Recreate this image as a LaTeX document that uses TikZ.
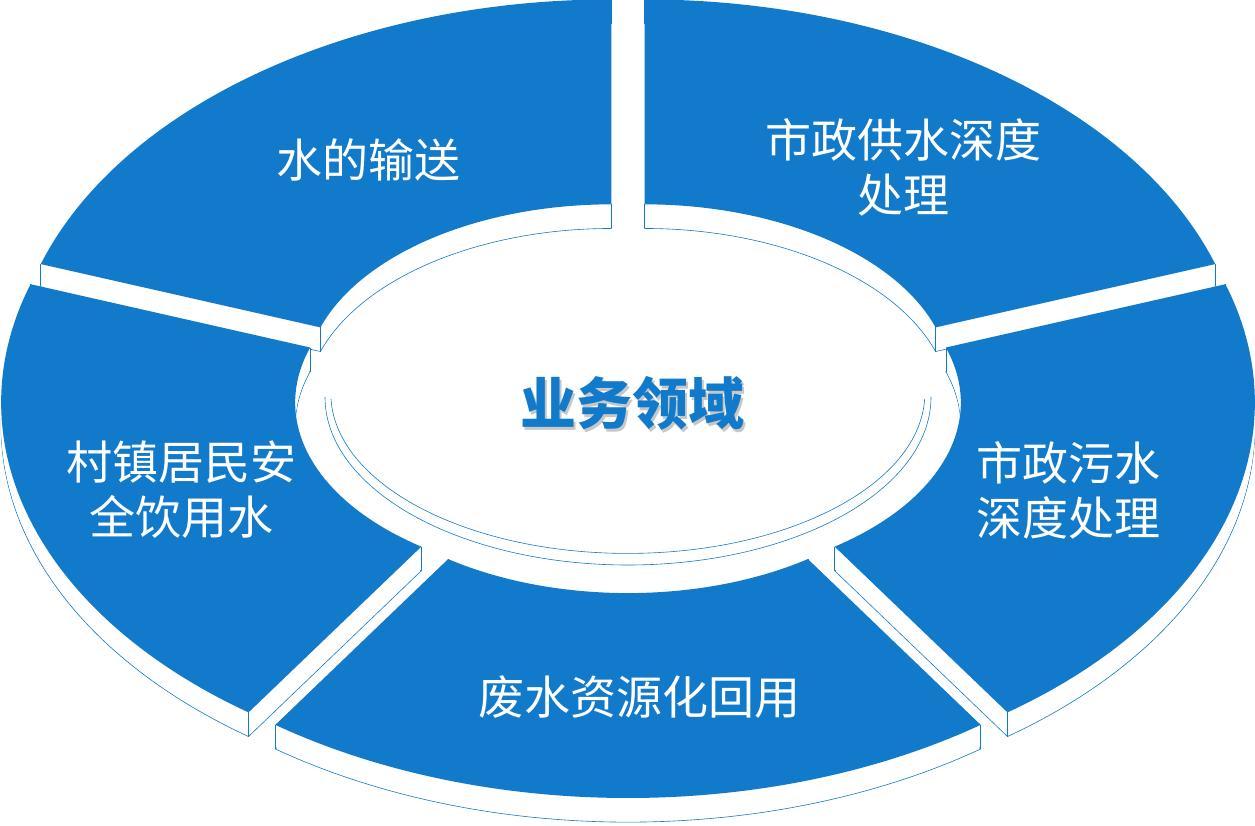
\documentclass[tikz,border=0pt]{standalone}
\usepackage{fontspec}
\newfontfamily\cjk{Noto Sans CJK SC}
\definecolor{segblue}{RGB}{17,122,202}

\tikzset{
  segtop/.style={fill=segblue},
  segside/.style={fill=white,draw=segblue,line width=0.6pt},
  segedge/.style={draw=segblue,line width=0.6pt},
  segtext/.style={text=white,font=\cjk\fontsize{46}{55}\selectfont,align=center},
  titletext/.style={font=\cjk\bfseries\fontsize{56}{60}\selectfont}
}

% one ring piece, unit ellipse, outer radius 1
\newcommand\segpath[2]{(#1:1) arc[start angle=#1,end angle=#2,radius=1] -- (#2:0.51 and 0.465) arc[start angle=#2,end angle=#1,x radius=0.51,y radius=0.465] -- cycle}
\newcommand\ringseg[2]{%
  \pgfmathsetmacro\segmid{(#1+#2)/2}
  \begin{scope}[shift={(\segmid:0.047)}]
    \path[segside,shift={(0,-0.063)}] \segpath{#1}{#2};
    \foreach \k in {1,...,12}
      \fill[white,shift={(0,{-0.063+0.063*\k/12})}] \segpath{#1}{#2};
    \draw[segedge] (#1:1) -- ++(0,-0.063) (#2:1) -- ++(0,-0.063)
      (#1:0.51 and 0.465) -- ++(0,-0.063) (#2:0.51 and 0.465) -- ++(0,-0.063);
    \fill[segtop] \segpath{#1}{#2};
  \end{scope}}
% title with a soft drop shadow
\newcommand\shadowtext[1]{\rlap{\hspace{2.5pt}\raisebox{-2.5pt}{\textcolor{black!22}{#1}}}\textcolor{segblue}{#1}}

\begin{document}
\begin{tikzpicture}[x=1pt,y=1pt]
\useasboundingbox (0,0) rectangle (1255,825);

% centre disc
\draw[segedge] (325,428) arc[start angle=180,end angle=360,x radius=303,y radius=168];
\draw[segedge] (331,426) arc[start angle=182,end angle=358,x radius=297,y radius=160];

\begin{scope}[shift={(628,428)},xscale=600,yscale=383]
\ringseg{90}{162}
\ringseg{18}{90}
\ringseg{162}{234}
\ringseg{-54}{18}
\ringseg{234}{306}
\end{scope}

\node (transport) at (368,665) [segtext] {水的输送};
\node (supply) at (903,658) [segtext] {市政供水深度\\处理};
\node (sewage) at (1068,335) [segtext] {市政污水\\深度处理};
\node (rural) at (181,335) [segtext] {村镇居民安\\全饮用水};
\node (reuse) at (639,128) [segtext] {废水资源化回用};

\node (title) at (632,420) [titletext] {\shadowtext{业务领域}};
\end{tikzpicture}
\end{document}
